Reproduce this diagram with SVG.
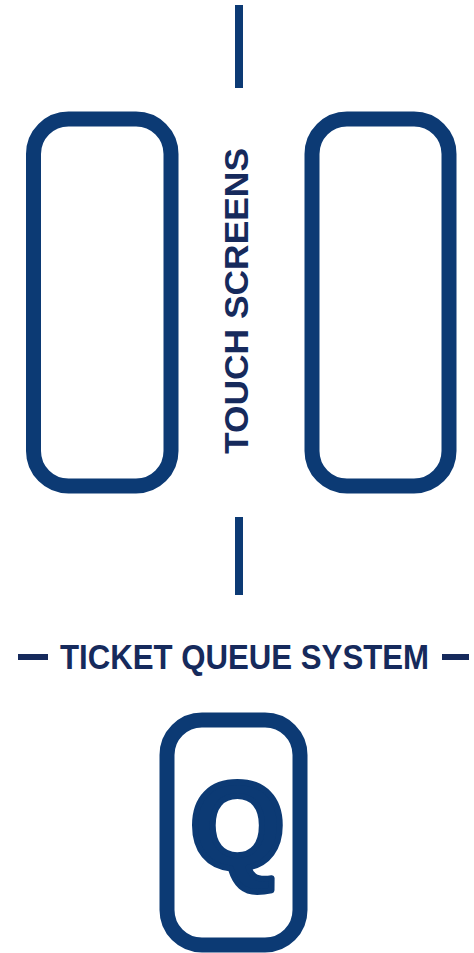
<svg xmlns="http://www.w3.org/2000/svg" width="474" height="953" viewBox="0 0 474 953">
<style>
.box{fill:none;stroke:#0c3a74;stroke-width:15}
.ln{stroke:#0c3a74;stroke-width:8;stroke-linecap:butt}
.dash{stroke:#162a5c;stroke-width:6}
.lbl{font-family:"Liberation Sans",Arial,sans-serif;font-weight:bold;fill:#162a5c}
</style>
<rect width="474" height="953" fill="#ffffff"/>
<g id="connectors">
<line class="ln" x1="239" y1="5" x2="239" y2="88"/>
<line class="ln" x1="239" y1="517" x2="239" y2="595"/>
<line class="dash" x1="18" y1="657" x2="48" y2="657"/>
<line class="dash" x1="442" y1="657" x2="469" y2="657"/>
</g>
<g id="screen-left">
<rect class="box" x="33.5" y="119" width="137.5" height="367" rx="35"/>
</g>
<g id="screen-right">
<rect class="box" x="312" y="119" width="137" height="367" rx="35"/>
</g>
<g id="touch-label">
<text class="lbl" font-size="34" text-anchor="middle" transform="translate(248,301) rotate(-90)" textLength="306" lengthAdjust="spacingAndGlyphs">TOUCH SCREENS</text>
</g>
<g id="ticket-label">
<text class="lbl" font-size="35" x="60" y="669" textLength="369" lengthAdjust="spacingAndGlyphs">TICKET QUEUE SYSTEM</text>
</g>
<g id="queue-box">
<rect class="box" x="167" y="720" width="133" height="225" rx="35"/>
<text class="lbl" font-size="122" x="237.5" y="868" text-anchor="middle" style="fill:#0c3a74;stroke:#0c3a74;stroke-width:6;stroke-linejoin:round">Q</text>
</g>
</svg>
